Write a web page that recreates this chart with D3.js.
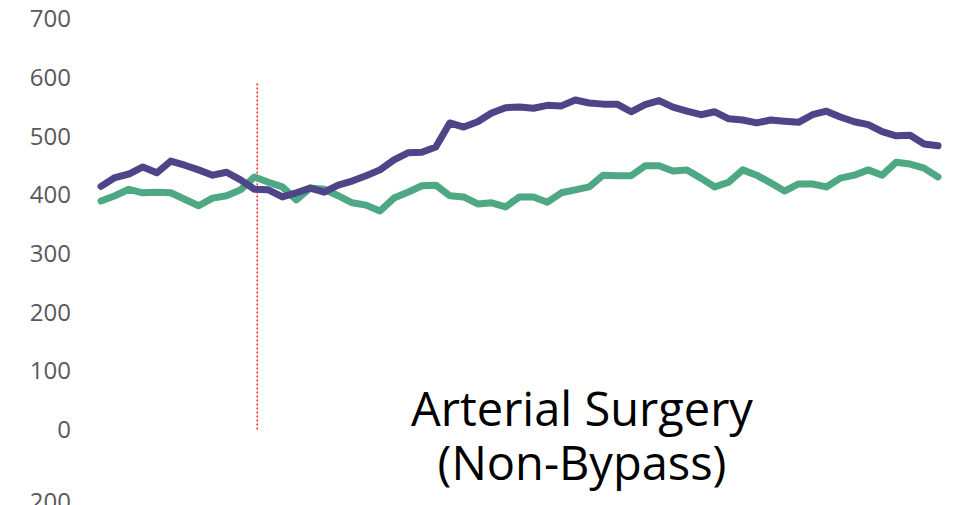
<!DOCTYPE html>
<html>
<head>
<meta charset="utf-8">
<script src="https://cdn.jsdelivr.net/npm/d3@7"></script>
<style>
  body { margin: 0; background: #fff; }
  svg { display: block; }
</style>
</head>
<body>
<svg id="mainsvg" width="962" height="505"></svg>
<script>
// monthly values, 61 points
let purpleVals = [415, 430, 436, 448, 438, 458, 451, 443, 434, 439,
                  426, 410, 409, 397, 404, 412, 405, 417, 424, 433,
                  443, 460, 472, 473, 482, 523, 516, 525, 540, 549,
                  550, 548, 553, 552, 562, 557, 555, 555, 542, 554,
                  561, 550, 543, 537, 542, 530, 528, 523, 528, 526,
                  524, 537, 543, 533, 525, 520, 508, 501, 502, 487, 484];
let greenVals = [390, 399, 410, 404, 405, 404, 393, 382, 395, 399,
                 409, 431, 422, 414, 392, 412, 410, 399, 387, 383,
                 373, 395, 405, 416, 417, 399, 397, 385, 387, 380,
                 397, 397, 388, 404, 409, 414, 434, 433, 433, 450,
                 450, 441, 443, 429, 414, 422, 443, 434, 421, 407,
                 419, 419, 414, 429, 434, 443, 434, 456, 453, 446, 431];
let yTicks = [0, 100, 200, 300, 400, 500, 600, 700];
let markerIndex = 11.2;
let markerTop = 590;
let titleLines = ["Arterial Surgery", "(Non-Bypass)"];

let svg = d3.select("#mainsvg");

let x = d3.scaleLinear().domain([0, purpleVals.length - 1]).range([101, 938]);
let y = d3.scaleLinear().domain([0, 700]).range([430, 19]);

// y axis, labels only
let yAxis = svg.append("g")
    .attr("transform", "translate(71,0)")
    .call(d3.axisLeft(y).tickValues(yTicks).tickSize(0).tickPadding(0));
yAxis.select(".domain").remove();
yAxis.selectAll("text")
    .attr("font-family", "'Open Sans', sans-serif")
    .attr("font-size", 24)
    .attr("fill", "#595959");

// label from the chart below, cut off at the edge
svg.append("text")
    .attr("x", 71).attr("y", 502)
    .attr("dy", "0.32em")
    .attr("text-anchor", "end")
    .attr("font-family", "'Open Sans', sans-serif")
    .attr("font-size", 24)
    .attr("fill", "#595959")
    .text("200");

// red dotted marker
svg.append("line")
    .attr("x1", x(markerIndex)).attr("x2", x(markerIndex))
    .attr("y1", y(markerTop)).attr("y2", y(0))
    .attr("stroke", "#ff2020")
    .attr("stroke-width", 1.5)
    .attr("stroke-dasharray", "2,2");

let line = d3.line().x((d, i) => x(i)).y(d => y(d));

svg.append("path")
    .datum(greenVals)
    .attr("d", line)
    .attr("fill", "none")
    .attr("stroke", "#4ea883")
    .attr("stroke-width", 7)
    .attr("stroke-linejoin", "round")
    .attr("stroke-linecap", "round");

svg.append("path")
    .datum(purpleVals)
    .attr("d", line)
    .attr("fill", "none")
    .attr("stroke", "#4e4589")
    .attr("stroke-width", 7)
    .attr("stroke-linejoin", "round")
    .attr("stroke-linecap", "round");

// title
svg.selectAll(".title").data(titleLines).enter()
    .append("text")
    .attr("class", "title")
    .attr("x", 582)
    .attr("y", (d, i) => 426 + i * 54)
    .attr("text-anchor", "middle")
    .attr("font-family", "'Open Sans', sans-serif")
    .attr("font-size", 47)
    .attr("fill", "#000")
    .text(d => d);
</script>
</body>
</html>
